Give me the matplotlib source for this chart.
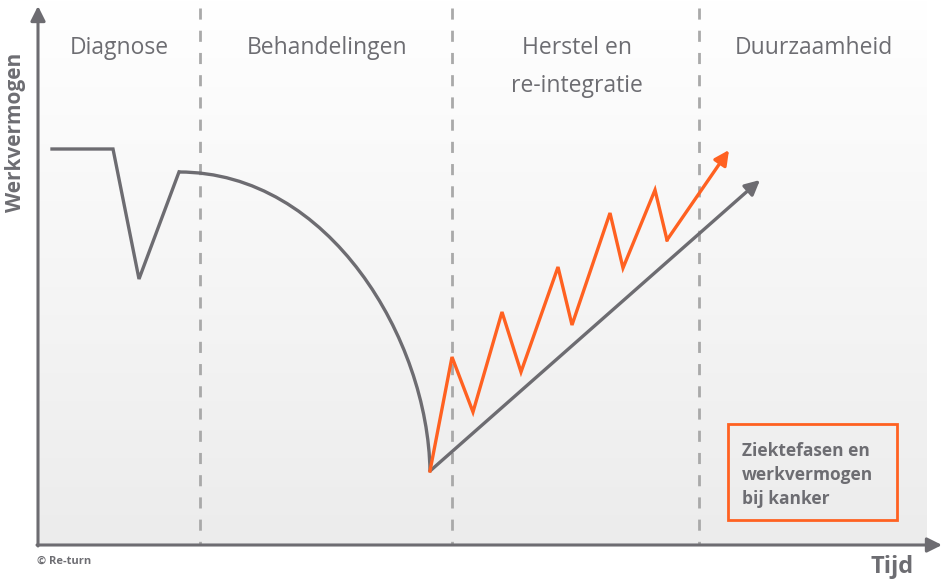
import numpy as np
import matplotlib.pyplot as plt
from matplotlib.path import Path
from matplotlib.patches import PathPatch
from matplotlib.colors import LinearSegmentedColormap

plt.rcParams['font.family'] = ['Open Sans', 'DejaVu Sans']

# fasen en grenzen (x in px-schaal van de tijdas)
fasen = ['Diagnose', 'Behandelingen', 'Herstel en\nre-integratie', 'Duurzaamheid']
fase_x = [119, 327, 577, 814]
grenzen = [200, 452, 699]

# grijze lijn: werkvermogen zonder begeleiding (y: 0 = boven)
grijs_x = [52, 113, 139, 179]
grijs_y = [149, 149, 279, 172]
# boog tijdens behandeling (bezier: start, 2 stuurpunten, eind)
boog_x = [179, 330, 428, 430]
boog_y = [172, 172, 340, 471]
# herstellijn met pijl
herstel_x = [430, 760]
herstel_y = [471, 180]

# oranje lijn: werkvermogen met begeleiding
oranje_x = [430, 452, 473, 502, 521, 558, 572, 610, 623, 655, 667, 729]
oranje_y = [471, 357, 412, 312, 372, 267, 325, 213, 268, 190, 240, 150]

grijs = '#6d6c71'
oranje = '#ff6121'
tekst = '#6d6d72'

fig = plt.figure(figsize=(9.45, 5.8), dpi=100)
ax = fig.add_axes([0, 0, 1, 1])
ax.set_xlim(0, 945)
ax.set_ylim(580, 0)
ax.axis('off')

# achtergrond met verloop
grad = np.linspace(0, 1, 256).reshape(-1, 1)
ax.imshow(grad, extent=[38, 927, 545, 0], cmap=LinearSegmentedColormap.from_list('bg', ['#ffffff', '#ececec']),
          aspect='auto', zorder=0)

# fasegrenzen
for gx in grenzen:
    ax.plot([gx, gx], [8, 545], color='#a9a9a9', lw=2, ls=(0, (4, 4)), zorder=1)

# fasenamen
for naam, fx in zip(fasen, fase_x):
    ax.text(fx, 36, naam, ha='center', va='top', fontsize=16.5, color=tekst, linespacing=1.8)

# assen met pijlen
pijl = dict(arrowstyle='-|>', lw=2.2, mutation_scale=22, shrinkA=0, shrinkB=0)
ax.annotate('', xy=(38, 6), xytext=(38, 546), arrowprops=dict(pijl, color=grijs))
ax.annotate('', xy=(942, 545), xytext=(37, 545), arrowprops=dict(pijl, color=grijs))

# grijze lijn
ax.plot(grijs_x, grijs_y, color=grijs, lw=2.4, solid_joinstyle='miter', zorder=3)
boog = Path(list(zip(boog_x, boog_y)), [Path.MOVETO, Path.CURVE4, Path.CURVE4, Path.CURVE4])
ax.add_patch(PathPatch(boog, fill=False, edgecolor=grijs, lw=2.4, zorder=3))
ax.annotate('', xy=(herstel_x[1], herstel_y[1]), xytext=(herstel_x[0], herstel_y[0]),
            arrowprops=dict(pijl, color=grijs, lw=2.4), zorder=3)

# oranje lijn
ax.plot(oranje_x[:-1], oranje_y[:-1], color=oranje, lw=2.4, solid_joinstyle='miter', zorder=4)
ax.annotate('', xy=(oranje_x[-1], oranje_y[-1]), xytext=(oranje_x[-2], oranje_y[-2]),
            arrowprops=dict(pijl, color=oranje, lw=2.4), zorder=4)

# aslabels
ax.text(16, 132, 'Werkvermogen', rotation=90, ha='center', va='center', fontsize=15,
        fontweight='bold', color=tekst)
ax.text(892, 567, 'Tijd', ha='center', va='center', fontsize=17, fontweight='bold', color=tekst)
ax.text(37, 561, '© Re-turn', ha='left', va='center', fontsize=8, fontweight='bold', color=tekst)

# legenda-kader
ax.add_patch(plt.Rectangle((728, 424), 169, 96, fill=False, edgecolor=oranje, lw=2, zorder=5))
ax.text(742, 475, 'Ziektefasen en\nwerkvermogen\nbij kanker', ha='left', va='center',
        fontsize=12.5, fontweight='bold', color=tekst, linespacing=1.45)

fig.savefig('out.png', dpi=100)
